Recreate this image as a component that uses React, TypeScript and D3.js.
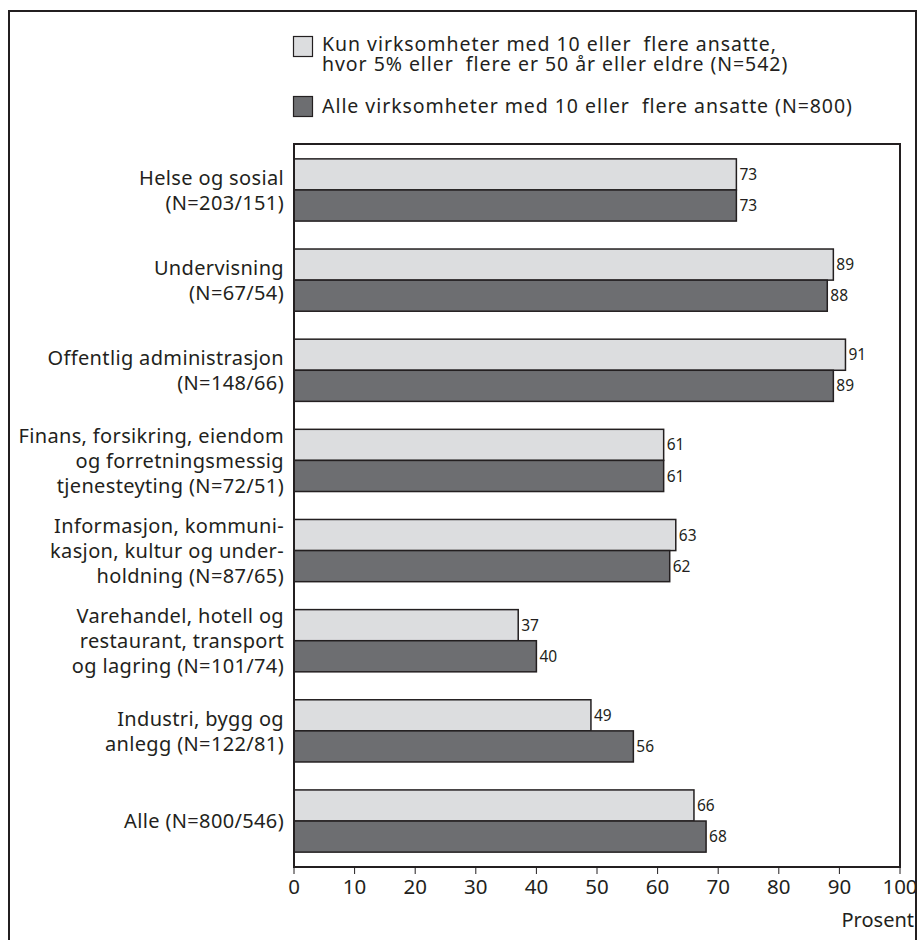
import React from "react";
import * as d3 from "d3";

const categories: string[][] = [
  ["Helse og sosial", "(N=203/151)"],
  ["Undervisning", "(N=67/54)"],
  ["Offentlig administrasjon", "(N=148/66)"],
  ["Finans, forsikring, eiendom", "og forretningsmessig", "tjenesteyting (N=72/51)"],
  ["Informasjon, kommuni-", "kasjon, kultur og under-", "holdning (N=87/65)"],
  ["Varehandel, hotell og", "restaurant, transport", "og lagring (N=101/74)"],
  ["Industri, bygg og", "anlegg (N=122/81)"],
  ["Alle (N=800/546)"],
];
const subset50plus = [73, 89, 91, 61, 63, 37, 49, 66];
const allFirms = [73, 88, 89, 61, 62, 40, 56, 68];
const xTicks = [0, 10, 20, 30, 40, 50, 60, 70, 80, 90, 100];
const legendLabels: string[][] = [
  ["Kun virksomheter med 10 eller  flere ansatte,", "hvor 5% eller  flere er 50 år eller eldre (N=542)"],
  ["Alle virksomheter med 10 eller  flere ansatte (N=800)"],
];

const W = 924;
const H = 940;
const INK = "#231f20";
const LIGHT = "#dcdddf";
const DARK = "#6d6e71";
const FONT = "'Noto Sans', 'Open Sans', sans-serif";

const plot = { left: 294, right: 900, top: 144, bottom: 867 };

export default function App() {
  const x = d3.scaleLinear().domain([0, 100]).range([plot.left, plot.right]);
  const y = d3
    .scaleBand<number>()
    .domain(d3.range(categories.length))
    .range([plot.top, plot.bottom])
    .paddingInner(0.31)
    .paddingOuter(0.165);
  const barH = y.bandwidth() / 2;
  const lineH = 25;

  return (
    <svg
      width={W}
      height={H}
      style={{ position: "absolute", left: 0, top: 0, display: "block" }}
      fontFamily={FONT}
      fill={INK}
    >
      <rect x={0} y={0} width={W} height={H} fill="#fff" />
      {/* outer frame, open at the bottom */}
      <path d={`M9,${H + 5} V11 H916 V${H + 5}`} fill="none" stroke={INK} strokeWidth={2} />

      {/* legend */}
      {legendLabels.map((lines, i) => {
        const top = i === 0 ? 36 : 96;
        return (
          <g key={i}>
            <rect
              x={293.5}
              y={top + 0.5}
              width={19}
              height={20}
              fill={i === 0 ? LIGHT : DARK}
              stroke={INK}
              strokeWidth={1.2}
            />
            {lines.map((t, j) => (
              <text
                key={j}
                x={322}
                y={(i === 0 ? 51 : 113) + j * 19.5}
                fontSize={19.5}
                letterSpacing={0.95}
                style={{ whiteSpace: "pre" }}
              >
                {t}
              </text>
            ))}
          </g>
        );
      })}

      {/* bars */}
      {categories.map((_, i) => {
        const y0 = y(i)!;
        return (
          <g key={i}>
            <rect
              x={x(0)}
              y={y0}
              width={x(subset50plus[i]) - x(0)}
              height={barH}
              fill={LIGHT}
              stroke={INK}
              strokeWidth={1.5}
            />
            <rect
              x={x(0)}
              y={y0 + barH}
              width={x(allFirms[i]) - x(0)}
              height={barH}
              fill={DARK}
              stroke={INK}
              strokeWidth={1.5}
            />
            <text x={x(subset50plus[i]) + 3} y={y0 + barH / 2} dy="0.36em" fontSize={15.5}>
              {subset50plus[i]}
            </text>
            <text x={x(allFirms[i]) + 3} y={y0 + barH * 1.5} dy="0.36em" fontSize={15.5}>
              {allFirms[i]}
            </text>
          </g>
        );
      })}

      {/* category labels */}
      {categories.map((lines, i) => {
        const cy = y(i)! + y.bandwidth() / 2;
        const first = cy - ((lines.length - 1) * lineH) / 2;
        return (
          <text key={i} textAnchor="end" fontSize={20} letterSpacing={0.35}>
            {lines.map((t, j) => (
              <tspan key={j} x={284} y={first + j * lineH} dy="0.36em">
                {t}
              </tspan>
            ))}
          </text>
        );
      })}

      {/* plot frame */}
      <rect
        x={plot.left}
        y={plot.top}
        width={plot.right - plot.left}
        height={plot.bottom - plot.top}
        fill="none"
        stroke={INK}
        strokeWidth={2}
      />

      {/* x axis */}
      {xTicks.map((t) => (
        <g key={t}>
          <line x1={x(t)} x2={x(t)} y1={plot.bottom} y2={plot.bottom + 7} stroke={INK} strokeWidth={1} />
          <text x={x(t)} y={894} textAnchor="middle" fontSize={20.5}>
            {t}
          </text>
        </g>
      ))}
      <text x={914} y={927} textAnchor="end" fontSize={20}>
        Prosent
      </text>
    </svg>
  );
}
